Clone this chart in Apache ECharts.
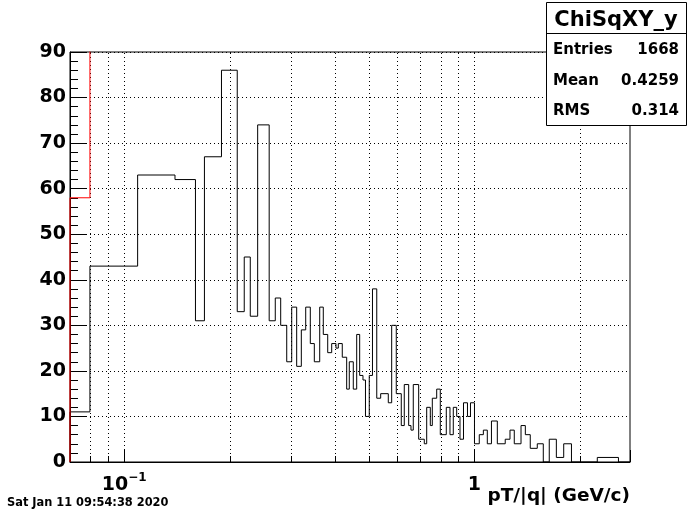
<!DOCTYPE html>
<html><head><meta charset="utf-8">
<script src="https://cdn.jsdelivr.net/npm/echarts@6/dist/echarts.min.js"></script>
<style>html,body{margin:0;padding:0;background:#fff}#c{width:700px;height:514px}</style>
</head><body><div id="c"></div>
<script>
// ---- data ----
const binEdges = [0.07, 0.0798, 0.1092, 0.1396, 0.1597, 0.1694, 0.1895, 0.2102, 0.2201, 0.229,
  0.2404, 0.2593, 0.2699, 0.2797, 0.291, 0.3007, 0.3107, 0.3203, 0.3297, 0.3398,
  0.3489, 0.3615, 0.3701, 0.381, 0.3911, 0.4023, 0.4085, 0.4193, 0.4316, 0.4391,
  0.4508, 0.461, 0.4701, 0.4804, 0.4884, 0.5007, 0.5114, 0.526, 0.5397, 0.5674,
  0.5802, 0.598, 0.618, 0.6303, 0.6488, 0.6587, 0.6687, 0.6929, 0.7189, 0.7304,
  0.7479, 0.7578, 0.78, 0.7987, 0.8308, 0.8512, 0.8699, 0.8896, 0.9091, 0.9303,
  0.955, 0.974, 1.0, 1.032, 1.06, 1.088, 1.118, 1.162, 1.224, 1.263,
  1.299, 1.358, 1.397, 1.443, 1.511, 1.572, 1.635, 1.713, 1.798, 1.892,
  2.242, 2.577, 2.78];
const counts = [11, 43, 63, 62, 31, 67, 86, 33, 45, 32,
  74, 31, 36, 30, 22, 34, 21, 29, 34, 26,
  22, 34, 28, 24, 26, 25, 26, 23, 16, 22,
  16, 28, 19, 18, 10, 19, 38, 14, 15, 13,
  30, 15, 8, 17, 8, 7, 17, 5, 4, 12,
  8, 14, 16, 6, 12, 6, 12, 10, 5, 13,
  10, 13, 4, 6, 7, 4, 9, 4, 5, 7,
  4, 8, 6, 3, 4, 0, 5, 1, 4, 0,
  1, 0];
const redEdges = [0.07, 0.0798, 0.1092];
const redCounts = [58, 120];
const xGridValues = [0.08, 0.09, 0.1, 0.2, 0.3, 0.4, 0.5, 0.6, 0.7, 0.8, 0.9, 1, 2];
const xMinorTickValues = [0.08, 0.09, 0.2, 0.3, 0.4, 0.5, 0.6, 0.7, 0.8, 0.9, 2];
const xMin = 0.07, xMax = 2.78, yMin = 0, yMax = 90;
const statsTitle = 'ChiSqXY_y';
const statsLabels = ['Entries', 'Mean', 'RMS'];
const statsValues = ['1668', '0.4259', '0.314'];
const xTitle = 'pT/|q| (GeV/c)';
const dateText = 'Sat Jan 11 09:54:38 2020';

const FF = '"DejaVu Sans", "Liberation Sans", sans-serif';

function stepOutline(edges, vals, closeEnd) {
  const pts = [[edges[0], 0]];
  for (let i = 0; i < vals.length; i++) {
    pts.push([edges[i], vals[i]]);
    pts.push([edges[i + 1], vals[i]]);
  }
  if (closeEnd) pts.push([edges[edges.length - 1], 0]);
  return pts;
}

const chart = echarts.init(document.getElementById('c'), null, {renderer: 'canvas'});

const statsGraphic = [];
statsGraphic.push({type: 'rect', z: 100, shape: {x: 546.5, y: 2.5, width: 140, height: 123},
  style: {fill: '#fff', stroke: '#000', lineWidth: 1}});
statsGraphic.push({type: 'line', z: 101, shape: {x1: 546.5, y1: 33.5, x2: 686.5, y2: 33.5},
  style: {stroke: '#000', lineWidth: 1}});
statsGraphic.push({type: 'text', z: 102, x: 616, y: 20.5,
  style: {text: statsTitle, fill: '#000', font: 'bold 21px ' + FF, align: 'center', verticalAlign: 'middle'}});
const rowY = [50, 81.5, 111.5];
statsLabels.forEach((l, i) => {
  statsGraphic.push({type: 'text', z: 102, x: 553, y: rowY[i],
    style: {text: l, fill: '#000', font: 'bold 15px ' + FF, align: 'left', verticalAlign: 'middle'}});
  statsGraphic.push({type: 'text', z: 102, x: 679, y: rowY[i],
    style: {text: statsValues[i], fill: '#000', font: 'bold 15px ' + FF, align: 'right', verticalAlign: 'middle'}});
});
statsGraphic.push({type: 'text', z: 102, x: 630, y: 496,
  style: {text: xTitle, fill: '#000', font: 'bold 18.5px ' + FF, align: 'right', verticalAlign: 'middle'}});
statsGraphic.push({type: 'text', z: 102, x: 7, y: 503,
  style: {text: dateText, fill: '#000', font: 'bold 11.4px ' + FF, align: 'left', verticalAlign: 'middle'}});

const option = {
  animation: false,
  backgroundColor: '#fff',
  grid: {left: 70, top: 52, width: 560, height: 410, show: true, borderColor: '#000', borderWidth: 1, backgroundColor: 'transparent'},
  xAxis: {
    type: 'log', logBase: 10, min: xMin, max: xMax,
    axisLine: {show: true, lineStyle: {color: '#000', width: 1}},
    axisTick: {show: true, inside: true, length: 12, lineStyle: {color: '#000'}},
    minorTick: {show: false},
    splitLine: {show: false},
    axisLabel: {
      show: true, margin: 12, showMinLabel: true, showMaxLabel: true,
      formatter: function (v) {
        const l = Math.log10(v);
        if (Math.abs(l + 1) < 1e-6) return '{b|10}{s|\u22121}';
        if (Math.abs(l) < 1e-6) return '{b|1}';
        return '';
      },
      rich: {
        b: {fontFamily: FF, fontWeight: 'bold', fontSize: 19, color: '#000', lineHeight: 22},
        s: {fontFamily: FF, fontWeight: 'bold', fontSize: 12, color: '#000', lineHeight: 22, padding: [0, 0, 14, 0]}
      }
    }
  },
  yAxis: {
    type: 'value', min: yMin, max: yMax, interval: 10,
    axisLine: {show: true, lineStyle: {color: '#000', width: 1}},
    axisTick: {show: true, inside: true, length: 16, lineStyle: {color: '#000'}},
    minorTick: {show: true, splitNumber: 5, length: 8, lineStyle: {color: '#000'}},
    splitLine: {show: true, lineStyle: {color: '#000', width: 1, type: [1, 3]}},
    axisLabel: {color: '#000', fontFamily: FF, fontWeight: 'bold', fontSize: 19, margin: 4}
  },
  graphic: statsGraphic,
  series: [
    {
      type: 'custom', name: 'xgrid', z: 1, silent: true,
      data: xGridValues.map(v => [v, 0]),
      renderItem: function (params, api) {
        const x = api.value(0);
        const p0 = api.coord([x, yMin]);
        const p1 = api.coord([x, yMax]);
        const px = Math.round(p0[0]) + 0.5;
        return {type: 'line', shape: {x1: px, y1: p0[1], x2: px, y2: p1[1]},
          style: {stroke: '#000', lineWidth: 1, lineDash: [1, 3]}};
      }
    },
    {
      type: 'custom', name: 'xminor', z: 1, silent: true,
      data: xMinorTickValues.map(v => [v, 0]),
      renderItem: function (params, api) {
        const x = api.value(0);
        const p0 = api.coord([x, yMin]);
        const px = Math.round(p0[0]) + 0.5;
        return {type: 'line', shape: {x1: px, y1: p0[1], x2: px, y2: p0[1] - 6},
          style: {stroke: '#000', lineWidth: 1}};
      }
    },
    {
      type: 'line', name: 'hist', z: 3, showSymbol: false, symbol: 'none', silent: true,
      clip: true,
      data: stepOutline(binEdges, counts, true),
      lineStyle: {color: '#000', width: 1}
    },
    {
      type: 'line', name: 'red', z: 4, showSymbol: false, symbol: 'none', silent: true,
      clip: true,
      data: stepOutline(redEdges, redCounts, false),
      lineStyle: {color: '#ff0000', width: 1}
    }
  ]
};
chart.setOption(option);
</script>
</body></html>
